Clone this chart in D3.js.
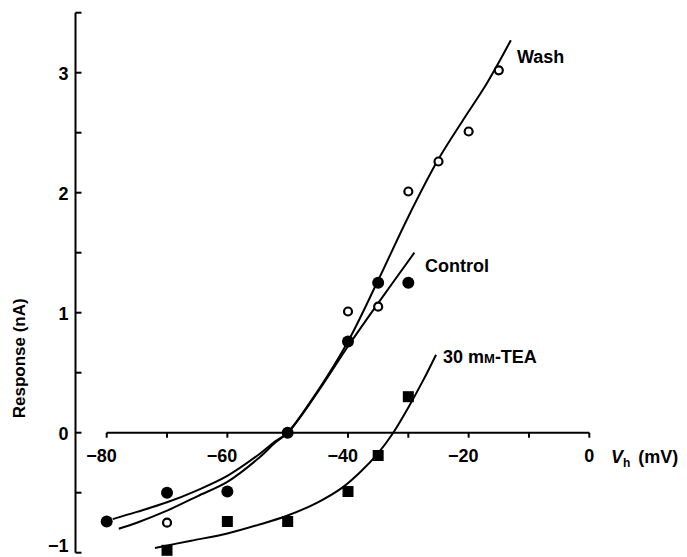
<!DOCTYPE html>
<html>
<head>
<meta charset="utf-8">
<script src="https://cdn.jsdelivr.net/npm/d3@7"></script>
<style>
  html, body { margin: 0; padding: 0; background: #fff; }
  svg { display: block; }
  text { font-family: "Liberation Sans", Arial, Helvetica, sans-serif; fill: #000; }
</style>
</head>
<body>
<svg id="chart" width="687" height="557"></svg>
<script>
// Holding potential (mV) vs response (nA): control, 30 mM-TEA, wash

// measured points
const controlX = [-80, -70, -60, -50, -40, -35, -30];
const controlY = [-0.74, -0.50, -0.49, 0.00, 0.76, 1.25, 1.25];
const washX = [-70, -50, -40, -35, -30, -25, -20, -15];
const washY = [-0.75, 0.00, 1.01, 1.05, 2.01, 2.26, 2.51, 3.02];
const teaX = [-70, -60, -50, -40, -35, -30];
const teaY = [-0.98, -0.74, -0.74, -0.49, -0.19, 0.30];

// fitted curves
const controlFitX = [-79, -75, -70, -65, -60, -55, -52, -50, -45, -40, -35, -29];
const controlFitY = [-0.72, -0.66, -0.58, -0.48, -0.36, -0.19, -0.07, 0.00, 0.34, 0.72, 1.08, 1.50];
const washFitX = [-78, -75, -70, -65, -60, -55, -52, -50, -45, -40, -35, -30, -25, -21, -17, -13];
const washFitY = [-0.80, -0.75, -0.65, -0.53, -0.41, -0.22, -0.08, 0.00, 0.35, 0.76, 1.27, 1.80, 2.28, 2.60, 2.91, 3.27];
const teaFitX = [-72, -66, -60, -55, -50, -45, -41, -38, -35, -32.5, -30, -27.5, -25.4];
const teaFitY = [-0.96, -0.90, -0.84, -0.77, -0.69, -0.58, -0.46, -0.33, -0.17, 0.00, 0.21, 0.44, 0.65];

// axes
const xTicks = [-80, -70, -60, -50, -40, -30, -20, -10, 0];
const xLabels = [-80, -60, -40, -20, 0];
const yTicks = [-1, -0.5, 0, 0.5, 1, 1.5, 2, 2.5, 3, 3.5];
const yLabels = [-1, 0, 1, 2, 3];

const svg = d3.select("#chart");

const x = d3.scaleLinear().domain([-80, 0]).range([106.7, 589.3]);
const y = d3.scaleLinear().domain([-1, 3.5]).range([552.7, 12.7]);
const axisX = 75.5;

// y axis: line with short ticks to the right
svg.append("line")
  .attr("x1", axisX).attr("x2", axisX)
  .attr("y1", y(3.5)).attr("y2", y(-1))
  .attr("stroke", "#000").attr("stroke-width", 2);
svg.append("g").selectAll("line")
  .data(yTicks).enter().append("line")
  .attr("x1", axisX).attr("x2", axisX + 6)
  .attr("y1", d => y(d)).attr("y2", d => y(d))
  .attr("stroke", "#000").attr("stroke-width", 2);
// bottom label sits a little higher so it stays inside the frame
svg.append("g").selectAll("text")
  .data(yLabels).enter().append("text")
  .attr("x", 68.5).attr("y", d => d === -1 ? y(d) - 0.5 : y(d) + 7.5)
  .attr("text-anchor", "end")
  .attr("font-size", 18).attr("font-weight", "bold")
  .text(d => d < 0 ? "\u2212" + Math.abs(d) : d);

svg.append("text")
  .attr("transform", `translate(25,${y(0.62)}) rotate(-90)`)
  .attr("text-anchor", "middle")
  .attr("font-size", 17).attr("font-weight", "bold")
  .text("Response (nA)");

// x axis at zero, ticks hang down
svg.append("line")
  .attr("x1", x(-80)).attr("x2", x(0))
  .attr("y1", y(0)).attr("y2", y(0))
  .attr("stroke", "#000").attr("stroke-width", 2);
svg.append("g").selectAll("line")
  .data(xTicks).enter().append("line")
  .attr("x1", d => x(d)).attr("x2", d => x(d))
  .attr("y1", y(0)).attr("y2", y(0) + 5)
  .attr("stroke", "#000").attr("stroke-width", 2);
// digits centred on the tick, minus sign hangs left
svg.append("g").selectAll("text")
  .data(xLabels).enter().append("text")
  .attr("x", d => d === 0 ? x(d) : x(d) + 10)
  .attr("y", y(0) + 29.5)
  .attr("text-anchor", d => d === 0 ? "middle" : "end")
  .attr("font-size", 18).attr("font-weight", "bold")
  .text(d => d < 0 ? "\u2212" + Math.abs(d) : d);

const vh = svg.append("text")
  .attr("x", 611).attr("y", y(0) + 30)
  .attr("font-size", 18).attr("font-weight", "bold");
vh.append("tspan").attr("font-style", "italic").text("V");
vh.append("tspan").attr("font-size", 12).attr("dy", 4).text("h");
vh.append("tspan").attr("dx", 8).attr("dy", -4).text("(mV)");

// fitted curves
const line = d3.line()
  .x(d => x(d[0])).y(d => y(d[1]))
  .curve(d3.curveCatmullRom.alpha(0.5));
const fits = [
  [controlFitX, controlFitY],
  [washFitX, washFitY],
  [teaFitX, teaFitY]
];
svg.append("g").selectAll("path")
  .data(fits).enter().append("path")
  .attr("d", d => line(d3.zip(d[0], d[1])))
  .attr("fill", "none").attr("stroke", "#000").attr("stroke-width", 2);

// markers: open circles (wash), filled circles (control), squares (TEA)
svg.append("g").selectAll("circle")
  .data(d3.zip(washX, washY)).enter().append("circle")
  .attr("cx", d => x(d[0])).attr("cy", d => y(d[1])).attr("r", 4)
  .attr("fill", "#fff").attr("stroke", "#000").attr("stroke-width", 2.2);
svg.append("g").selectAll("circle")
  .data(d3.zip(controlX, controlY)).enter().append("circle")
  .attr("cx", d => x(d[0])).attr("cy", d => y(d[1])).attr("r", 6)
  .attr("fill", "#000");
svg.append("g").selectAll("rect")
  .data(d3.zip(teaX, teaY)).enter().append("rect")
  .attr("x", d => x(d[0]) - 5.5).attr("y", d => y(d[1]) - 5.5)
  .attr("width", 11).attr("height", 11)
  .attr("fill", "#000");

// curve labels
svg.append("text").attr("x", 517).attr("y", 63)
  .attr("font-size", 18).attr("font-weight", "bold").text("Wash");
svg.append("text").attr("x", 425).attr("y", 272)
  .attr("font-size", 18).attr("font-weight", "bold").text("Control");
const tea = svg.append("text").attr("x", 443).attr("y", 363)
  .attr("font-size", 18).attr("font-weight", "bold");
tea.append("tspan").text("30 m");
tea.append("tspan").attr("font-size", 13).text("M");
tea.append("tspan").text("-TEA");
</script>
</body>
</html>
